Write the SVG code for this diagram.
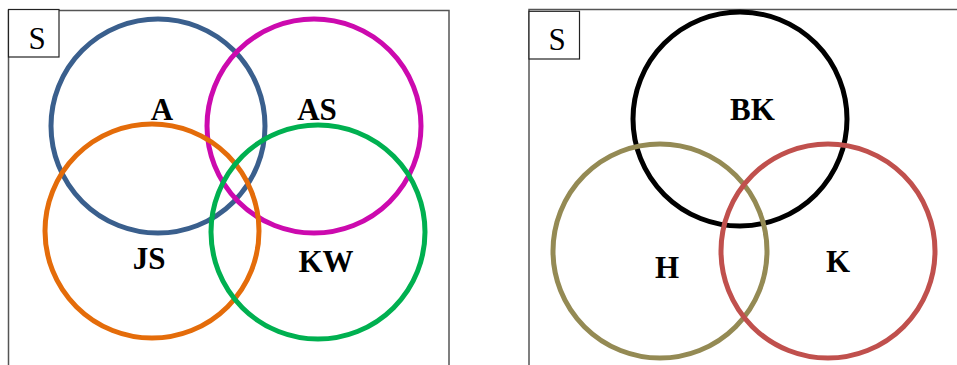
<svg xmlns="http://www.w3.org/2000/svg" width="957" height="365" viewBox="0 0 957 365">
  <style>
    .frame { fill: none; stroke: #555555; stroke-width: 1.5; }
    .sbox { fill: #ffffff; stroke: #222222; stroke-width: 1.2; }
    .slabel { font-family: "Times New Roman", "Liberation Serif", Times, serif; font-size: 31px; fill: #000000; text-anchor: middle; }
    .set { fill: none; stroke-width: 5; }
    .lbl { font-family: "Times New Roman", "Liberation Serif", Times, serif; font-weight: 700; font-size: 31px; fill: #000000; text-anchor: middle; }
  </style>

  <!-- left universe -->
  <g id="universe-left">
    <rect class="frame" x="8.5" y="10.5" width="440.5" height="370"/>
    <rect class="sbox" x="8.5" y="9.5" width="50.5" height="47.5"/>
    <text class="slabel" x="37" y="48.5">S</text>
  </g>

  <g id="set-A">
    <circle class="set" cx="158" cy="126" r="107" stroke="#3A5F8D"/>
    <text class="lbl" x="162" y="120">A</text>
  </g>
  <g id="set-AS">
    <circle class="set" cx="314" cy="126" r="107" stroke="#CC0AAE"/>
    <text class="lbl" x="317" y="120">AS</text>
  </g>
  <g id="set-JS">
    <circle class="set" cx="152" cy="231" r="107" stroke="#E46C0A"/>
    <text class="lbl" x="149" y="268.5">JS</text>
  </g>
  <g id="set-KW">
    <circle class="set" cx="318" cy="232" r="107" stroke="#00B050"/>
    <text class="lbl" x="326" y="272">KW</text>
  </g>

  <!-- right universe -->
  <g id="universe-right">
    <rect class="frame" x="529" y="9.5" width="440" height="370" stroke="#333333"/>
    <rect class="sbox" x="529" y="11.3" width="50.5" height="47.7"/>
    <text class="slabel" x="557" y="49.5">S</text>
  </g>

  <g id="set-BK">
    <circle class="set" cx="740" cy="119" r="107" stroke="#000000"/>
    <text class="lbl" x="752.5" y="119.5">BK</text>
  </g>
  <g id="set-H">
    <circle class="set" cx="660" cy="251" r="107" stroke="#948A54"/>
    <text class="lbl" x="667" y="277.5">H</text>
  </g>
  <g id="set-K">
    <circle class="set" cx="828" cy="251" r="107" stroke="#C0504D"/>
    <text class="lbl" x="838" y="271.5">K</text>
  </g>

  <g id="connectors"/>
</svg>
